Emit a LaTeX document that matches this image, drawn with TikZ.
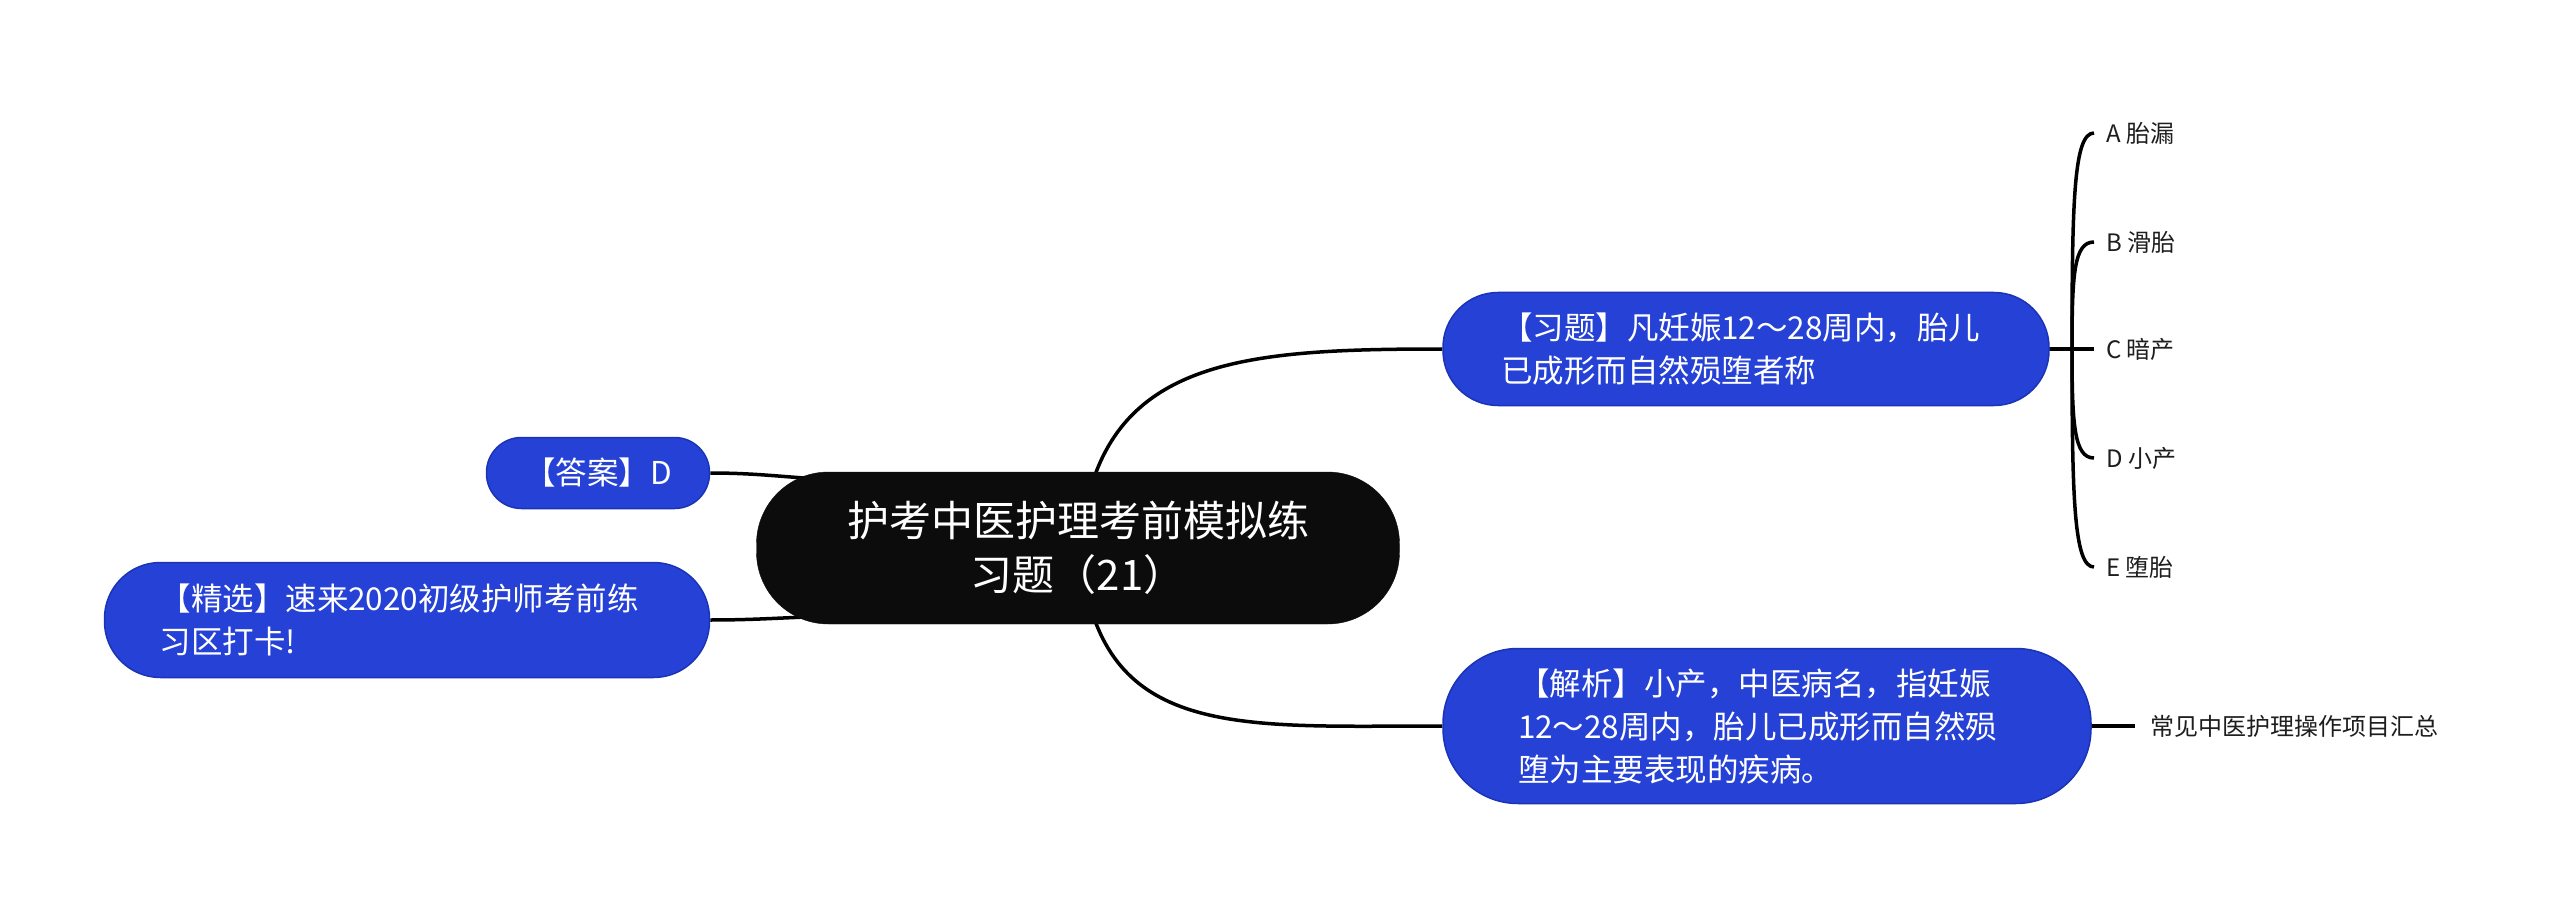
\documentclass[tikz,border=0pt]{standalone}
\usepackage{fontspec}
\setmainfont{Noto Sans CJK SC}
\usetikzlibrary{calc,backgrounds}
\definecolor{nodeblue}{HTML}{2541D6}
\definecolor{nodeedge}{HTML}{1B33B5}
\definecolor{rootblack}{HTML}{0C0C0C}
\definecolor{txtdark}{HTML}{1E1E1E}
\tikzset{
  conn/.style={line width=3.5pt, draw=black},
  rootnode/.style={fill=rootblack, draw=rootblack, text=white, rounded corners=72pt,
    minimum width=643pt, minimum height=152pt, align=center,
    font=\fontsize{42}{54}\selectfont, inner sep=0pt},
  bluenode/.style={fill=nodeblue, draw=nodeedge, line width=1.5pt, text=white,
    font=\fontsize{31.5}{43}\selectfont, inner ysep=0pt},
  optnode/.style={text=txtdark, font=\fontsize{24}{28}\selectfont, anchor=west,
    inner xsep=12pt, inner ysep=0pt},
}
\begin{document}
\begin{tikzpicture}[x=1pt,y=-1pt]
\useasboundingbox (0,0) rectangle (2560,909);

\node[rootnode] (c) at (1078,548) {护考中医护理考前模拟练\\习题（21）};

\node[bluenode, rounded corners=55pt, minimum height=113pt, text width=490pt,
  inner xsep=58pt, align=left] (xiti) at (1746,349)
  {【习题】凡妊娠12～28周内，胎儿\\已成形而自然殒堕者称};

\node[bluenode, rounded corners=75pt, minimum height=155pt, text width=498pt,
  inner xsep=75pt, align=left] (jiexi) at (1767,726)
  {【解析】小产，中医病名，指妊娠\\12～28周内，胎儿已成形而自然殒\\堕为主要表现的疾病。};

\node[bluenode, rounded corners=35pt, minimum height=71pt, minimum width=223pt,
  inner xsep=0pt, align=center] (daan) at (598,473) {【答案】D};

\node[bluenode, rounded corners=56pt, minimum height=115pt, text width=495pt,
  inner xsep=55pt, align=left] (jingxuan) at (407,620)
  {【精选】速来2020初级护师考前练\\习区打卡!};

\node[optnode] (oa) at (2094,133) {A 胎漏};
\node[optnode] (ob) at (2094,242) {B 滑胎};
\node[optnode] (oc) at (2094,349) {C 暗产};
\node[optnode] (od) at (2094,458) {D 小产};
\node[optnode] (oe) at (2094,567) {E 堕胎};

\node[optnode, inner xsep=15pt] (note) at (2135,726) {常见中医护理操作项目汇总};

\coordinate (j) at (2072,349);

\begin{scope}[on background layer]
  \fill[white] (0,0) rectangle (2560,909);
  \draw[conn] ($(c.center)+(10,-50)$) .. controls +(35,-140) and +(-190,0) .. (xiti.west);
  \draw[conn] ($(c.center)+(10,50)$) .. controls +(35,140) and +(-190,0) .. (jiexi.west);
  \draw[conn] (daan.east) .. controls +(50,0) and +(-48,-2) .. ($(c.center)+(-240,-68)$);
  \draw[conn] (jingxuan.east) .. controls +(50,0) and +(-48,1) .. ($(c.center)+(-240,68)$);
\end{scope}

\draw[conn] (xiti.east) -- (oc.west);
\draw[conn] (j) .. controls +(0,-150) and +(-20,0) .. (oa.west);
\draw[conn] (j) .. controls +(0,-75) and +(-20,0) .. (ob.west);
\draw[conn] (j) .. controls +(0,75) and +(-20,0) .. (od.west);
\draw[conn] (j) .. controls +(0,150) and +(-20,0) .. (oe.west);
\draw[conn] (jiexi.east) -- (note.west);
\end{tikzpicture}
\end{document}
